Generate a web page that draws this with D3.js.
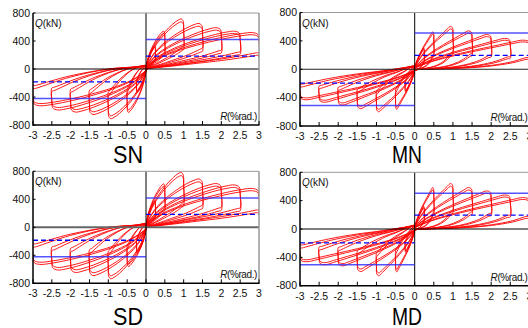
<!DOCTYPE html>
<html><head><meta charset="utf-8">
<script src="https://cdn.jsdelivr.net/npm/d3@7"></script>
<style>
html,body{margin:0;padding:0;background:#fff;}
svg{display:block;font-family:"Liberation Sans",Arial,sans-serif;}
</style></head>
<body>
<svg id="chart" width="528" height="328"></svg>
<script>
// ---------------- data ----------------
const titles = ["SN", "MN", "SD", "MD"];
const amplitudes = [0.25, 0.5, 1, 1.5, 2, 2.5, 3];          // R (%rad.)
const snPosPeak = [330, 540, 715, 650, 590, 540, 520];       // Q (kN)
const snNegPeak = [-340, -620, -710, -650, -615, -585, -525];
const mnPosPeak = [300, 527, 605, 541, 489, 435, 410];
const mnNegPeak = [-320, -565, -600, -555, -505, -465, -430];
const sdPosPeak = [380, 620, 785, 690, 625, 605, 555];
const sdNegPeak = [-360, -560, -735, -690, -645, -610, -530];
const mdPosPeak = [320, 586, 643, 586, 537, 480, 443];
const mdNegPeak = [-330, -605, -660, -600, -520, -505, -462];
const cycleRatio = [1, 0.94];                                  // repeated cycles
const unloadPos = [0.46, 0.42, 0.46, 0.42];                    // fraction of peak after unloading
const unloadNeg = [0.55, 0.6, 0.55, 0.6];
const solidLevels = [420, 510, 420, 505];
const dashedLevels = [185, 195, 185, 195];
const xTicks = [-3, -2.5, -2, -1.5, -1, -0.5, 0, 0.5, 1, 1.5, 2, 2.5, 3];
const yTicks = [-800, -400, 0, 400, 800];
// loop outline (fraction of amplitude, fraction of peak)
const loadShapeS = [[0,0.04],[0.05,0.17],[0.15,0.36],[0.3,0.55],[0.5,0.74],[0.7,0.89],[0.85,0.975],[0.94,1.0],[0.99,0.95]];
const loadShapeM = [[0,0.04],[0.05,0.13],[0.15,0.28],[0.3,0.45],[0.5,0.64],[0.7,0.81],[0.85,0.935],[0.94,1.0],[0.99,0.96]];
const returnPosS = [[0.97,0.96],[0.83,0.78],[0.67,0.6],[0.45,0.4],[0.25,0.22],[0.1,0.1],[0.02,0.03]];
const returnPosM = [[0.97,0.95],[0.85,0.62],[0.67,0.32],[0.5,0.16],[0.3,0.06],[0.1,0.0],[0.02,-0.04]];
const returnNegS = [[0.97,0.95],[0.67,0.4],[0.33,0.0],[0.1,-0.1],[0.02,-0.14]];
const returnNegM = [[0.97,0.95],[0.75,0.6],[0.5,0.3],[0.33,0.15],[0.1,-0.08],[0.02,-0.14]];

const posPeaks = [snPosPeak, mnPosPeak, sdPosPeak, mdPosPeak];
const negPeaks = [snNegPeak, mnNegPeak, sdNegPeak, mdNegPeak];
const loadShapes = [loadShapeS, loadShapeM, loadShapeS, loadShapeM];
const retPosShapes = [returnPosS, returnPosM, returnPosS, returnPosM];
const retNegShapes = [returnNegS, returnNegM, returnNegS, returnNegM];

// ---------------- layout ----------------
const layout = [
  {l:33, r:259, t:13, b:125, tx:128, ty:162.5, zero:"#000", zw:1},
  {l:300, r:529.4, t:12.5, b:126, tx:407, ty:162.5, zero:"#222", zw:1},
  {l:33, r:259, t:171.3, b:283.3, tx:128, ty:324.5, zero:"#666", zw:2},
  {l:300, r:529.4, t:172.3, b:285.7, tx:407, ty:324.5, zero:"#000", zw:1}
];

const svg = d3.select("#chart");
const fmt = v => String(v).replace("\u2212", "-");

layout.forEach((L, i) => {
  const x = d3.scaleLinear().domain([-3, 3]).range([L.l, L.r]);
  const y = d3.scaleLinear().domain([-800, 800]).range([L.b, L.t]);
  const g = svg.append("g");
  const clipId = "clip" + i;
  g.append("clipPath").attr("id", clipId).append("rect")
    .attr("x", L.l).attr("y", L.t).attr("width", L.r - L.l).attr("height", L.b - L.t);

  // loops
  const line = d3.line().x(d => x(d[0])).y(d => y(d[1])).curve(d3.curveCatmullRom.alpha(0.5));
  const loops = g.append("g").attr("clip-path", `url(#${clipId})`);
  amplitudes.forEach((a, k) => {
    cycleRatio.forEach((cr, c) => {
      const P = posPeaks[i][k] * cr, N = negPeaks[i][k] * cr;
      const uP = unloadPos[i] * (c ? 0.9 : 1), uN = unloadNeg[i] * (c ? 0.9 : 1);
      const pts = [];
      loadShapes[i].forEach(([fx, fy]) => pts.push([fx * a, fy * P]));
      pts.push([a, 0.8 * P]);
      pts.push([a, uP * P]);
      retPosShapes[i].forEach(([fx, fy]) => pts.push([fx * a, fy * uP * P]));
      loadShapes[i].forEach(([fx, fy]) => pts.push([-fx * a, fy * N]));
      pts.push([-a, 0.8 * N]);
      pts.push([-a, uN * N]);
      retNegShapes[i].forEach(([fx, fy]) => pts.push([-fx * a, fy * uN * N]));
      pts.push([0, 0.04 * P]);
      loops.append("path").attr("d", line(pts))
        .attr("fill", "none").attr("stroke", "#ff0000").attr("stroke-width", 0.9);
    });
  });

  // zero lines
  g.append("line").attr("x1", L.l).attr("x2", L.r).attr("y1", y(0)).attr("y2", y(0))
    .attr("stroke", L.zero).attr("stroke-width", L.zw);
  g.append("line").attr("x1", x(0)).attr("x2", x(0)).attr("y1", L.t).attr("y2", L.b)
    .attr("stroke", "#000").attr("stroke-width", 1);

  // reference levels
  const lv = g.append("g").attr("clip-path", `url(#${clipId})`);
  [[0, 3, solidLevels[i]], [-3, 0, -solidLevels[i]]].forEach(([a0, a1, q]) => {
    lv.append("line").attr("x1", x(a0)).attr("x2", x(a1)).attr("y1", y(q)).attr("y2", y(q))
      .attr("stroke", "#2a2aff").attr("stroke-width", 1.5).attr("opacity", 0.8);
  });
  [[0, 3, dashedLevels[i]], [-3, 0, -dashedLevels[i]]].forEach(([a0, a1, q]) => {
    lv.append("line").attr("x1", x(a0)).attr("x2", x(a1)).attr("y1", y(q)).attr("y2", y(q))
      .attr("stroke", "#0000ff").attr("stroke-width", 1.3).attr("stroke-dasharray", "5,3");
  });

  // frame
  g.append("line").attr("x1", L.l).attr("x2", L.r).attr("y1", L.t).attr("y2", L.t)
    .attr("stroke", "#999").attr("stroke-width", 1);
  g.append("line").attr("x1", L.r).attr("x2", L.r).attr("y1", L.t).attr("y2", L.b)
    .attr("stroke", "#999").attr("stroke-width", 1.5);
  g.append("line").attr("x1", L.l).attr("x2", L.r + 0.5).attr("y1", L.b).attr("y2", L.b)
    .attr("stroke", "#000").attr("stroke-width", 1.5);
  g.append("line").attr("x1", L.l).attr("x2", L.l).attr("y1", L.t).attr("y2", L.b + 0.75)
    .attr("stroke", "#000").attr("stroke-width", 1.5);

  // ticks
  xTicks.forEach(v => {
    g.append("line").attr("x1", x(v)).attr("x2", x(v)).attr("y1", L.b).attr("y2", L.b - 4)
      .attr("stroke", "#000").attr("stroke-width", 1);
    g.append("text").attr("x", x(v)).attr("y", L.b + 14).attr("text-anchor", "middle")
      .attr("font-size", 10.5).attr("fill", "#111").text(fmt(v));
  });
  yTicks.forEach(v => {
    g.append("line").attr("x1", L.l).attr("x2", L.l + 2.5).attr("y1", y(v)).attr("y2", y(v))
      .attr("stroke", "#000").attr("stroke-width", 1);
    g.append("text").attr("x", L.l - 3).attr("y", y(v)).attr("dy", "0.36em").attr("text-anchor", "end")
      .attr("font-size", 10.5).attr("fill", "#111").text(fmt(v));
  });

  // axis names
  const qt = g.append("text").attr("x", L.l + 2).attr("y", L.t + 14).attr("font-size", 10).attr("fill", "#111");
  qt.append("tspan").attr("font-style", "italic").text("Q");
  qt.append("tspan").text("(kN)");
  const rt = g.append("text").attr("x", L.r - 2).attr("y", L.b - 5).attr("text-anchor", "end")
    .attr("font-size", 10).attr("letter-spacing", -0.4).attr("fill", "#111");
  rt.append("tspan").attr("font-style", "italic").text("R");
  rt.append("tspan").text("(%rad.)");

  // title
  svg.append("text").attr("x", L.tx).attr("y", L.ty).attr("text-anchor", "middle")
    .attr("font-size", 24).attr("textLength", 30).attr("lengthAdjust", "spacingAndGlyphs")
    .attr("fill", "#000").text(titles[i]);
});
</script>
</body></html>
